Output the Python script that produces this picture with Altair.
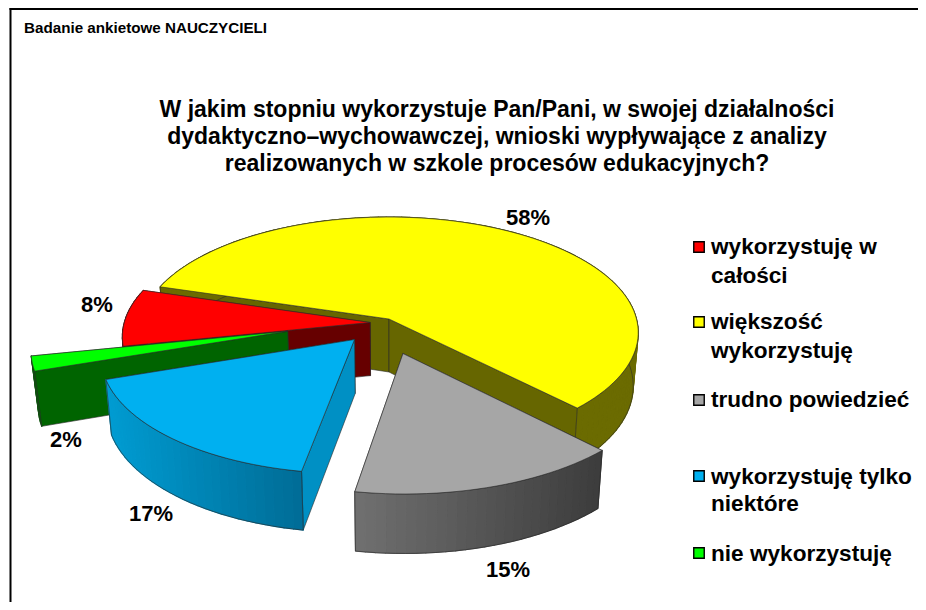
import math
import altair as alt

# ---- data -------------------------------------------------------------
categories = ["większość wykorzystuję", "trudno powiedzieć", "wykorzystuję tylko niektóre",
              "nie wykorzystuję", "wykorzystuję w całości"]
shares = [58, 15, 17, 2, 8]
header = "Badanie ankietowe NAUCZYCIELI"
title_lines = ["W jakim stopniu wykorzystuje Pan/Pani, w swojej działalności",
               "dydaktyczno–wychowawczej, wnioski wypływające z analizy",
               "realizowanych w szkole procesów edukacyjnych?"]
legend_order = ["wykorzystuję w całości", "większość wykorzystuję", "trudno powiedzieć",
                "wykorzystuję tylko niektóre", "nie wykorzystuję"]
legend_lines = [["wykorzystuję w", "całości"], ["większość", "wykorzystuję"], ["trudno powiedzieć"],
                ["wykorzystuję tylko", "niektóre"], ["nie wykorzystuję"]]

# ---- styles -------------------------------------------------------------
top_colors = ["#FFFF00", "#A6A6A6", "#00B0F0", "#00FF00", "#FF0000"]
cut_colors = ["#666600", "#666666", "#0090C4", "#006400", "#660000"]
rim_from = ["#6B6B00", "#707070", "#009CD2", "#006400", "#660000"]
rim_to = ["#6B6B00", "#3C3C3C", "#006C96", "#006400", "#660000"]
legend_fill = ["#FF0000", "#FFFF00", "#A6A6A6", "#00B0F0", "#00FF00"]
# explosion of each slice on the disk plane, and its radius factor
offsets = [(0.0, 0.0), (0.054, 0.29), (-0.135, 0.175), (-0.40, 0.105), (-0.075, 0.03)]
radius = [0.99, 1.0, 0.985, 1.0, 0.98]
draw_order = [0, 4, 3, 2, 1]
label_xy = [(528, 218), (508, 570), (151, 514), (66, 440), (97, 305)]
legend_y = [[247, 276], [322, 351], [400], [477, 504], [554]]
legend_sq_y = [247, 322, 400, 476, 553]

OX, OY = 8, 8
CX, CY = 389.0, 319.0
R, A, K = 250.0, 115.0, 0.118
START = 163.0
OUTLINE = "#2a2a2a"


def project(s, t, lower=False):
    den = 1 - K * t
    x, y = R * s / den, A * t / den
    if lower:
        y += 53 + 5 * t
        x *= 0.98
    return [CX + x - OX, CY + y - OY]


def mix(a, b, f):
    ca = [int(a[i:i + 2], 16) for i in (1, 3, 5)]
    cb = [int(b[i:i + 2], 16) for i in (1, 3, 5)]
    return "#%02x%02x%02x" % tuple(round(u + (v - u) * f) for u, v in zip(ca, cb))


def feature(ring, fill, stroke, width):
    return {"type": "Feature",
            "geometry": {"type": "Polygon", "coordinates": [ring + [ring[0]]]},
            "properties": {"fill": fill, "stroke": stroke, "width": width}}


def slice_features(idx):
    a0 = START - sum(shares[:idx]) * 3.6
    a1 = a0 - shares[idx] * 3.6
    ox, oy = offsets[idx]
    rad = radius[idx]
    n = max(4, int(abs(a1 - a0) / 2))
    angs = [a0 + (a1 - a0) * j / n for j in range(n + 1)]
    pts = [(ox + rad * math.cos(math.radians(a)), oy - rad * math.sin(math.radians(a))) for a in angs]
    apex = (ox, oy)
    out = []
    # the wall of the lower edge is the one that shows: it goes last
    for p in sorted((pts[0], pts[-1]), key=lambda q: project(*q)[1]):
        out.append(feature([project(*apex), project(*p), project(*p, True), project(*apex, True)],
                           cut_colors[idx], OUTLINE, 0.6))
    # outer wall, shaded from left to right
    xs = [project(*p)[0] for p in pts]
    xmin, xmax = min(xs), max(xs)
    for j in range(n):
        p, q = pts[j], pts[j + 1]
        f = ((xs[j] + xs[j + 1]) / 2 - xmin) / max(xmax - xmin, 1)
        col = mix(rim_from[idx], rim_to[idx], f)
        out.append(feature([project(*p), project(*q), project(*q, True), project(*p, True)],
                           col, col, 1.2))
    out.append(feature([project(*p, True) for p in pts] + [project(*p) for p in reversed(pts)],
                       "transparent", OUTLINE, 0.6))
    out.append(feature([project(*apex)] + [project(*p) for p in pts],
                       top_colors[idx], OUTLINE, 0.6))
    return out


features = []
for i in draw_order:
    features += slice_features(i)

pie = alt.Chart(alt.Data(values=features)).mark_geoshape(strokeJoin="round").encode(
    fill=alt.Fill("properties.fill:N", scale=None, legend=None),
    stroke=alt.Stroke("properties.stroke:N", scale=None, legend=None),
    strokeWidth=alt.StrokeWidth("properties.width:Q", scale=None, legend=None),
).project(type="identity", scale=1, translate=[0, 0])

PX = alt.X("x:Q", scale=None, axis=None)
PY = alt.Y("y:Q", scale=None, axis=None)
FONT = "Liberation Sans"


def text_layer(rows, size, align="left"):
    return alt.Chart(alt.Data(values=rows)).mark_text(
        font=FONT, fontWeight="bold", fontSize=size, align=align, baseline="middle", color="#000000"
    ).encode(x=PX, y=PY, text="t:N")


header_rows = [{"x": 24 - OX, "y": 28 - OY, "t": header}]
title_rows = [{"x": 497 - OX, "y": yy - OY, "t": t} for t, yy in zip(title_lines, [110, 137, 164])]
pct_rows = [{"x": xy[0] - OX, "y": xy[1] - OY, "t": f"{v}%"} for v, xy in zip(shares, label_xy)]
leg_rows = [{"x": 711 - OX, "y": yy - OY, "t": t}
            for lines, ys in zip(legend_lines, legend_y) for t, yy in zip(lines, ys)]
sq_rows = [{"x": 699 - OX, "y": yy - OY, "fill": c, "name": n}
           for yy, c, n in zip(legend_sq_y, legend_fill, legend_order)]

squares = alt.Chart(alt.Data(values=sq_rows)).mark_square(
    size=110, stroke="#000000", strokeWidth=1.4, opacity=1
).encode(x=PX, y=PY, fill=alt.Fill("fill:N", scale=None, legend=None))

frame_top = alt.Chart(alt.Data(values=[{"a": 1}])).mark_rule(color="#000000", strokeWidth=2).encode(
    x=alt.value(1.5), x2=alt.value(910), y=alt.value(1))
frame_left = alt.Chart(alt.Data(values=[{"a": 1}])).mark_rule(color="#000000", strokeWidth=2).encode(
    x=alt.value(2.5), y=alt.value(0), y2=alt.value(594))

chart = alt.layer(
    frame_top, frame_left, pie,
    text_layer(header_rows, 15.2),
    text_layer(title_rows, 23, "center"),
    text_layer(pct_rows, 22, "center"),
    squares,
    text_layer(leg_rows, 22.6),
).properties(
    width=910, height=594, padding=0, background="#ffffff",
    autosize=alt.AutoSizeParams(type="none"),
).configure_view(stroke=None)

chart.save("out.html", embed_options={"renderer": "svg", "actions": False})
